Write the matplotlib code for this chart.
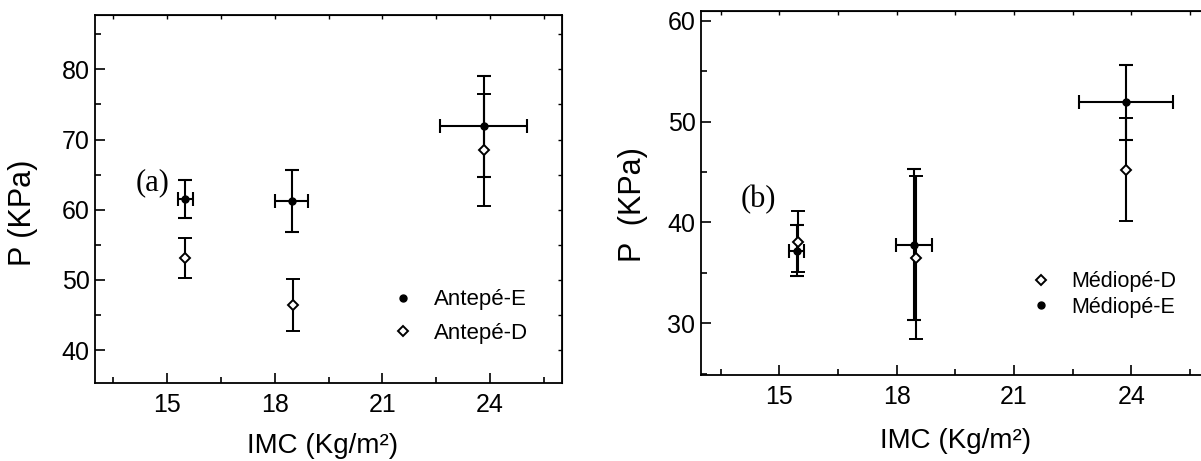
import numpy as np
import matplotlib.pyplot as plt
from matplotlib.lines import Line2D
from matplotlib.ticker import MultipleLocator

plt.rcParams['font.family'] = ['Liberation Sans', 'DejaVu Sans']

# (a) Antepe
imc_E_a = [15.5, 18.47, 23.82]
imcerr_E_a = [0.21, 0.45, 1.2]
p_E_a = [61.5, 61.2, 71.9]
perr_E_a = [2.7, 4.4, 7.2]

imc_D_a = [15.5, 18.5, 23.82]
p_D_a = [53.1, 46.4, 68.5]
perr_D_a = [2.9, 3.7, 8.0]

# (b) Mediope
imc_E_b = [15.45, 18.44, 23.87]
imcerr_E_b = [0.19, 0.47, 1.2]
p_E_b = [37.2, 37.8, 51.9]
perr_E_b = [2.5, 7.5, 3.7]

imc_D_b = [15.49, 18.49, 23.87]
p_D_b = [38.1, 36.5, 45.2]
perr_D_b = [3.0, 8.1, 5.1]

xticks = [15, 18, 21, 24]

fig = plt.figure(figsize=(12.01, 4.61), dpi=100)
ax1 = fig.add_axes([0.0794, 0.1685, 0.3883, 0.7996])
ax2 = fig.add_axes([0.5837, 0.1859, 0.4236, 0.7902])

lw = 1.5
kw = dict(ecolor='k', elinewidth=lw, capsize=5, capthick=lw, ls='none')
dot = dict(marker='o', ms=5, mfc='k', mec='k', color='k')
dia = dict(marker='D', ms=5.5, mfc='w', mec='k', mew=1.4, color='k')

def style(ax, ylim, ymaj):
    ax.set_xlim(13, 26)
    ax.set_ylim(*ylim)
    ax.set_xticks(xticks)
    ax.xaxis.set_minor_locator(MultipleLocator(1.5))
    ax.yaxis.set_major_locator(MultipleLocator(ymaj))
    ax.yaxis.set_minor_locator(MultipleLocator(ymaj / 2))
    for s in ax.spines.values():
        s.set_linewidth(1.3)
    ax.tick_params(which='major', direction='in', length=7, width=1.2, labelsize=18, pad=4)
    ax.tick_params(which='minor', direction='in', length=4, width=1.2)
    ax.tick_params(axis='x', which='major', pad=7)
    # short ticks on top and right
    sx = ax.secondary_xaxis('top')
    sx.set_xticks(xticks)
    sx.xaxis.set_minor_locator(MultipleLocator(1.5))
    sx.tick_params(which='both', direction='in', length=3, width=1, labeltop=False)
    sy = ax.secondary_yaxis('right')
    sy.yaxis.set_major_locator(MultipleLocator(ymaj))
    sy.yaxis.set_minor_locator(MultipleLocator(ymaj / 2))
    sy.tick_params(which='both', direction='in', length=3, width=1, labelright=False)

# panel (a)
ax1.errorbar(imc_E_a, p_E_a, yerr=perr_E_a, xerr=imcerr_E_a, **kw, **dot)
ax1.errorbar(imc_D_a, p_D_a, yerr=perr_D_a, **kw, **dia)
style(ax1, (35.25, 87.8), 10)
ax1.set_xlabel('IMC (Kg/m²)', fontsize=20)
ax1.set_ylabel('P (KPa)', fontsize=22)
ax1.xaxis.set_label_coords(0.487, -0.135)
ax1.yaxis.set_label_coords(-0.123, 0.462)
ax1.text(14.6, 63.8, '(a)', fontsize=22, family=['Liberation Serif', 'DejaVu Serif'],
         ha='center', va='center')
h1 = [Line2D([], [], ls='none', **dot), Line2D([], [], ls='none', **dia)]
ax1.legend(h1, ['Antepé-E', 'Antepé-D'], loc='upper left', bbox_to_anchor=(0.635, 0.255),
           frameon=False, fontsize=16, handlelength=1, handletextpad=0.9,
           borderpad=0, borderaxespad=0, labelspacing=0.55)

# panel (b)
ax2.errorbar(imc_E_b, p_E_b, yerr=perr_E_b, xerr=imcerr_E_b, **kw, **dot)
ax2.errorbar(imc_D_b, p_D_b, yerr=perr_D_b, **kw, **dia)
style(ax2, (24.85, 60.95), 10)
ax2.set_xlabel('IMC (Kg/m²)', fontsize=20)
ax2.set_ylabel('P  (KPa)', fontsize=22)
ax2.xaxis.set_label_coords(0.501, -0.145)
ax2.yaxis.set_label_coords(-0.104, 0.47)
ax2.text(14.46, 42.25, '(b)', fontsize=22, family=['Liberation Serif', 'DejaVu Serif'],
         ha='center', va='center')
h2 = [Line2D([], [], ls='none', **dia), Line2D([], [], ls='none', **dot)]
ax2.legend(h2, ['Médiopé-D', 'Médiopé-E'], loc='upper left', bbox_to_anchor=(0.647, 0.285),
           frameon=False, fontsize=15.5, handlelength=1, handletextpad=0.9,
           borderpad=0, borderaxespad=0, labelspacing=0.2)

fig.savefig('out.png', dpi=100)
